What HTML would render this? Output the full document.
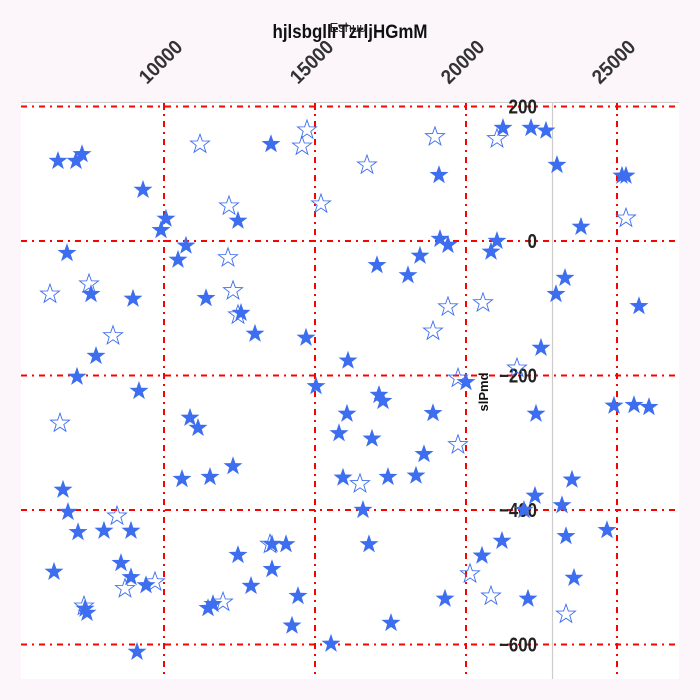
<!DOCTYPE html>
<html><head><meta charset="utf-8"><style>
body{margin:0;background:#fcf6fa;}
svg{display:block;font-family:"Liberation Sans",sans-serif;}
</style></head><body>
<svg width="700" height="700">
<rect x="0" y="0" width="700" height="700" fill="#fcf6fa"/>
<rect x="21" y="103" width="658" height="576" fill="#ffffff"/>
<g id="grid"></g>
<line x1="21" y1="102.5" x2="679" y2="102.5" stroke="#cccccc" stroke-width="1"/>
<line x1="552.5" y1="103" x2="552.5" y2="679" stroke="#cccccc" stroke-width="1.2"/>
<g id="ticks"></g>
<g id="marks"></g>
<text x="350" y="38" text-anchor="middle" font-size="19" font-weight="bold" fill="#111" textLength="155" lengthAdjust="spacingAndGlyphs">hjlsbgllrTzrljHGmM</text>
<text x="348" y="32" text-anchor="middle" font-size="13" fill="#222">Eshuu</text>
<text x="0" y="0" transform="translate(488,392) rotate(-90)" text-anchor="middle" font-size="13" font-weight="bold" fill="#111">slPmd</text>
</svg>
<script>
const xTicks=[10000,15000,20000,25000];
const yTicks=[200,0,-200,-400,-600];
const filledX=[6490,7086,7285,9305,10066,9901,10728,10464,6788,7583,8974,11391,12450,13543,12550,13013,7749,7119,9172,10861,11126,10596,11523,12285,6656,6821,7153,8013,8907,8576,6358,8907,9404,7384,7450,9106,11457,11622,12450,12881,13576,13576,14040,14437,14238,14702,15033,16092,16059,15794,15927,16887,17119,17251,17417,18344,18609,18907,16589,16788,17516,15529,17052,18079,18476,19105,19138,19403,19999,19304,20529,21191,20827,21026,21225,22152,22648,23012,23807,23277,22979,22483,22317,22284,23178,23509,23310,23575,22052,21920,25164,25297,25727,24900,25562,26058,24668];
const filledY=[119,119,129,76,33,16,-7,-28,-18,-79,-86,-85,30,144,-107,-138,-171,-202,-223,-263,-278,-354,-351,-335,-370,-403,-433,-431,-431,-479,-492,-500,-512,-547,-553,-611,-546,-540,-467,-513,-488,-451,-451,-528,-572,-144,-216,-178,-257,-286,-352,-294,-229,-238,-351,-349,-317,-256,-400,-451,-568,-599,-36,-51,-22,98,3,-6,-210,-532,-468,-446,-16,0,168,168,164,113,21,-55,-79,-159,-257,-379,-393,-355,-439,-501,-532,-400,97,97,-97,-245,-244,-247,-430];
const hollowX=[6225,7517,6557,8311,8444,8709,9702,7351,11192,12152,12119,12285,12450,11953,13510,14735,14569,15198,16721,16490,18973,18907,19403,20562,21026,19734,19734,20132,20827,21688,25297,23310];
const hollowY=[-79,-64,-271,-141,-409,-517,-507,-543,144,52,-25,-74,-110,-537,-451,165,141,55,113,-361,155,-134,-98,-92,152,-204,-303,-495,-528,-189,34,-555];
const NS="http://www.w3.org/2000/svg";
function sx(v){return 164+(v-10000)*0.0302;}
function sy(v){return 241-v*0.6725;}
function mk(tag,attrs,parent){const e=document.createElementNS(NS,tag);for(const k in attrs)e.setAttribute(k,attrs[k]);parent.appendChild(e);return e;}
const grid=document.getElementById('grid'),ticks=document.getElementById('ticks'),marks=document.getElementById('marks');
xTicks.forEach(t=>{const x=sx(t);
 const l=mk('line',{x1:x,y1:103,x2:x,y2:679,stroke:'#ff0000','stroke-width':2,'stroke-dasharray':'6,5,2,5'},grid);
 
 
 const tk=mk('line',{x1:x,y1:103,x2:x,y2:110,stroke:'#ff0000','stroke-width':2},ticks);
 
 
 const tx=mk('text',{x:0,y:0,transform:`translate(${x-17},85) rotate(-45)`,'font-size':20,'font-weight':'bold',fill:'#333',textLength:52,lengthAdjust:'spacingAndGlyphs'},ticks);
 tx.textContent=t;
 
 
});
yTicks.forEach(t=>{const y=sy(t);
 const l=mk('line',{x1:21,y1:y,x2:679,y2:y,stroke:'#ff0000','stroke-width':2,'stroke-dasharray':'6,5,2,5'},grid);
 
 
 const s=t<0?'\u2212'+(-t):String(t);
 const tx=mk('text',{x:537,y:y+7,'text-anchor':'end','font-size':20,'font-weight':'bold',fill:'#222',textLength:s.length*9.5,lengthAdjust:'spacingAndGlyphs'},ticks);
 tx.textContent=s;
 
 
});
function starPath(cx,cy,R){const r=R*0.4;let d='';for(let i=0;i<10;i++){const a=-Math.PI/2+i*Math.PI/5;const rr=i%2?r:R;d+=(i?'L':'M')+(cx+rr*Math.cos(a)).toFixed(1)+','+(cy+rr*Math.sin(a)).toFixed(1);}return d+'Z';}
filledX.forEach((v,i)=>{const p=mk('path',{d:starPath(sx(v),sy(filledY[i]),10),fill:'#3d6ef0'},marks);
 
 
});
hollowX.forEach((v,i)=>{const p=mk('path',{d:starPath(sx(v),sy(hollowY[i]),10),fill:'none',stroke:'#3d6ef0','stroke-width':0.9},marks);
 
 
});
</script>
</body></html>
